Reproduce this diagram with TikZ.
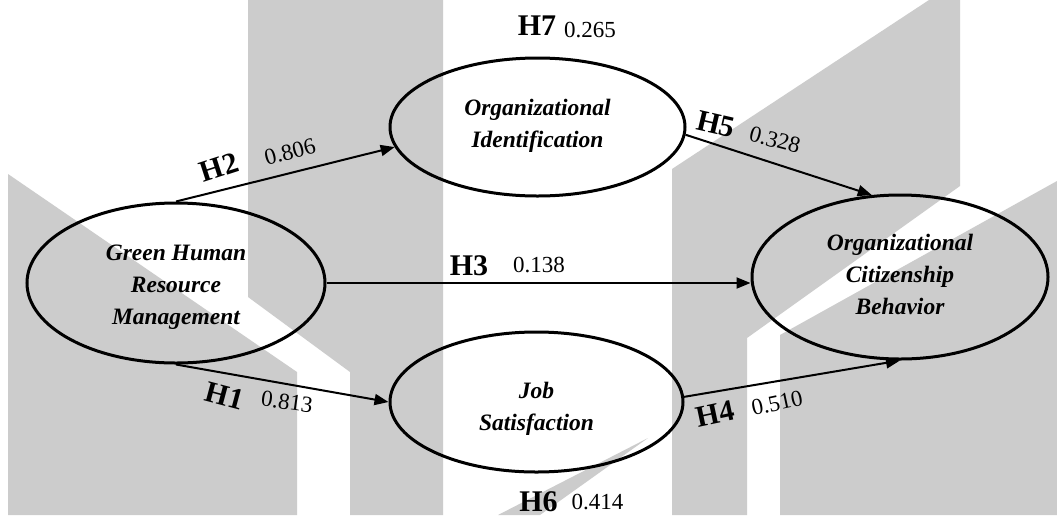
\documentclass[tikz,border=0pt]{standalone}
\usepackage{fontspec}
\setmainfont{Liberation Serif}
\usetikzlibrary{arrows.meta,shapes.geometric}
\definecolor{wmgrey}{RGB}{204,204,204}
\tikzset{
  construct/.style={draw, line width=3pt, ellipse, inner sep=0pt},
  constructtext/.style={font=\fontsize{23.5}{32}\selectfont\bfseries\itshape, align=center, inner sep=0pt},
  link/.style={line width=2pt, -{Triangle[length=14pt,width=11pt]}},
  hyp/.style={font=\fontsize{30}{30}\selectfont\bfseries, inner sep=0pt},
  coef/.style={font=\fontsize{23}{23}\selectfont, inner sep=0pt},
  wm/.style={fill=wmgrey, draw=none}
}
\begin{document}
\begin{tikzpicture}[x=1pt,y=-1pt]
\useasboundingbox (0,0) rectangle (1057,515);
\fill[white] (0,0) rectangle (1057,515);

% background watermark bands
\fill[wm] (248,0) -- (443,0) -- (443,515) -- (350,515) -- (350,372) -- (248,297) -- cycle;
\fill[wm] (8,174) -- (297,372) -- (297,515) -- (8,515) -- cycle;
\fill[wm] (672,169) -- (929,0) -- (960,0) -- (960,186) -- (747,338) -- (747,515) -- (672,515) -- cycle;
\fill[wm] (780,335) -- (1057,181) -- (1057,515) -- (780,515) -- cycle;
\fill[wm] (648,438) -- (540,515) -- (498,515) -- cycle;

% constructs
\node[construct, minimum width=298pt, minimum height=160pt] (ghrm) at (176,283) {};
\node[construct, minimum width=295pt, minimum height=138pt] (oi) at (537.5,127) {};
\node[construct, minimum width=293pt, minimum height=140pt] (js) at (536.5,402) {};
\node[construct, minimum width=296pt, minimum height=164pt] (ocb) at (900,277) {};

\node[constructtext] (ghrmt) at (176,287) {Green Human\\Resource\\Management};
\node[constructtext] (oit) at (537.5,126) {Organizational\\Identification};
\node[constructtext] (jst) at (536.5,409) {Job\\Satisfaction};
\node[constructtext] (ocbt) at (900,274.5) {Organizational\\Citizenship\\Behavior};

% hypothesised paths
\draw[link] (ghrm.north) -- (oi.188);
\draw[link] (ghrm.south) -- (js.west);
\draw[link] (ghrm.east) -- (ghrm.east -| ocb.west);
\draw[link] (oi.-3) -- (ocb.109);
\draw[link] (js.2) -- (ocb.south);

% hypothesis labels and coefficients
\node[hyp, rotate=18] (h2) at (219,167) {H2};
\node[coef, rotate=15] (c2) at (290,152) {0.806};
\node[hyp, rotate=-15] (h1) at (225,396) {H1};
\node[coef, rotate=-8] (c1) at (287,402) {0.813};
\node[hyp, rotate=-13] (h5) at (716,124) {H5};
\node[coef, rotate=-15] (c5) at (775,140) {0.328};
\node[hyp, rotate=12] (h4) at (715,414) {H4};
\node[coef, rotate=12] (c4) at (777,403) {0.510};
\node[hyp, anchor=base] (h3) at (469,275) {H3};
\node[coef, anchor=base] (c3) at (539,272) {0.138};
\node[hyp, anchor=base] (h7) at (537,35) {H7};
\node[coef, anchor=base] (c7) at (590,37) {0.265};
\node[hyp, anchor=base] (h6) at (538.5,511) {H6};
\node[coef, anchor=base] (c6) at (597.5,509) {0.414};
\end{tikzpicture}
\end{document}
